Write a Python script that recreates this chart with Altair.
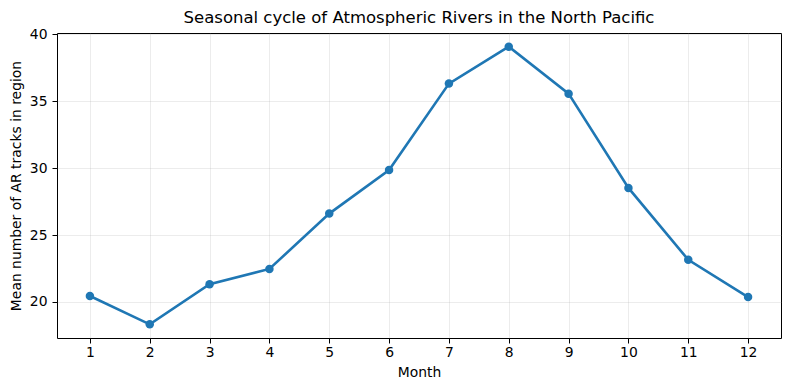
import altair as alt
import pandas as pd

months = [1, 2, 3, 4, 5, 6, 7, 8, 9, 10, 11, 12]
mean_tracks = [20.45, 18.33, 21.33, 22.47, 26.6, 29.86, 36.31, 39.07, 35.56, 28.52, 23.15, 20.37]

df = pd.DataFrame({"Month": months, "Value": mean_tracks})

FONT = "DejaVu Sans"

x = alt.X("Month:Q",
          scale=alt.Scale(domain=[0.45, 12.55], nice=False, zero=False),
          axis=alt.Axis(values=months, title="Month", format="d"))
y = alt.Y("Value:Q",
          scale=alt.Scale(domain=[17.31, 40.09], nice=False, zero=False),
          axis=alt.Axis(values=[20, 25, 30, 35, 40],
                        title="Mean number of AR tracks in region"))

line = alt.Chart(df).mark_line(color="#1f77b4", strokeWidth=2.6).encode(x=x, y=y)
pts = alt.Chart(df).mark_circle(color="#1f77b4", size=72, opacity=1).encode(x=x, y=y)

chart = (line + pts).properties(
    width=724, height=305,
    title=alt.TitleParams("Seasonal cycle of Atmospheric Rivers in the North Pacific",
                          font=FONT, fontSize=16.5, fontWeight="normal", color="black",
                          anchor="middle", offset=1),
    autosize=alt.AutoSizeParams(type="none"),
    padding={"left": 49, "top": 25, "right": 1, "bottom": 45},
).configure_view(
    stroke="black", strokeWidth=1
).configure_axis(
    labelFont=FONT, titleFont=FONT, labelFontSize=13.9, titleFontSize=13.9,
    labelColor="black", titleColor="black", titleFontWeight="normal",
    domain=False, tickColor="black", tickSize=5,
    gridColor="#b0b0b0", gridOpacity=0.3, gridWidth=0.8,
).configure_axisX(labelPadding=2, titlePadding=7).configure_axisY(labelPadding=5, titlePadding=6)

chart.save("out.html", embed_options={"renderer": "svg", "actions": False})
